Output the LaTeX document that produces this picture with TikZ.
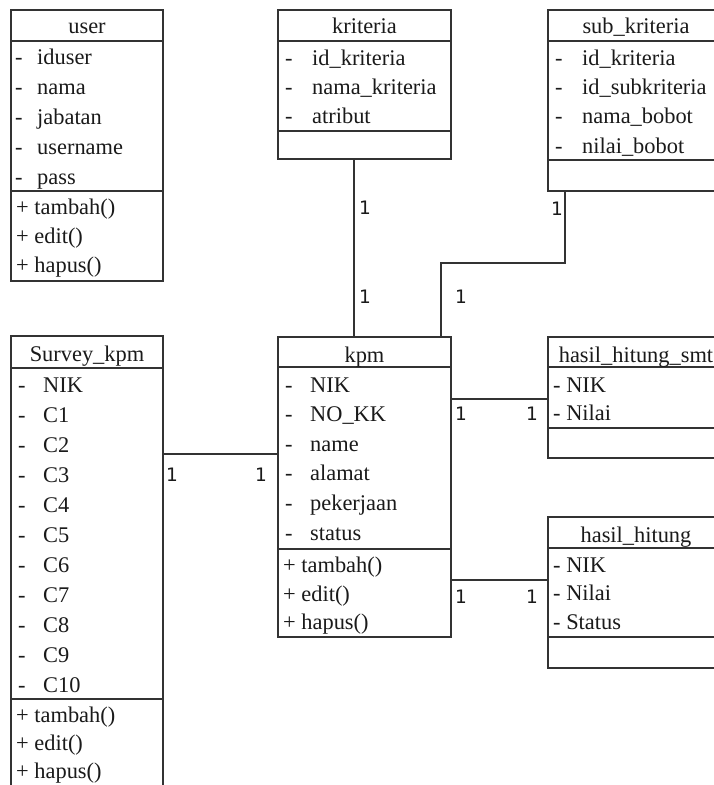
\documentclass[tikz,border=0pt]{standalone}
\usepackage{fontspec}
\setmainfont{Liberation Serif}
\newfontfamily\multfont{DejaVu Sans}
\usetikzlibrary{calc}
\definecolor{linec}{HTML}{333333}
\definecolor{txtc}{HTML}{1A1A1A}
\newcommand\umldash[1]{\makebox[#1][l]{-}}
\tikzset{
  box/.style={draw=linec, line width=1.3pt, anchor=north west, inner sep=0pt, outer sep=0pt},
  divline/.style={draw=linec, line width=1.3pt},
  txt/.style={anchor=base west, inner sep=0pt, text=txtc, font=\fontsize{22.4}{26}\selectfont},
  head/.style={anchor=base, inner sep=0pt, text=txtc, font=\fontsize{22.4}{26}\selectfont},
  mult/.style={inner sep=0pt, text=txtc, font=\multfont\fontsize{18.5}{20}\selectfont},
  conn/.style={draw=linec, line width=1.3pt},
}
\begin{document}
\begin{tikzpicture}[x=1pt,y=-1pt]
\useasboundingbox (0,0) rectangle (714,785);
\clip (0,0) rectangle (714,785);
\fill[white] (0,0) rectangle (714,785);

% ---------- user ----------
\node[box, minimum width=152pt, minimum height=271pt] (user) at (11,10) {};
\draw[divline] (11,41) -- (163,41);
\draw[divline] (11,191) -- (163,191);
\node[head] (user-h) at (87,33) {user};
\foreach \t [count=\i] in {iduser,nama,jabatan,username,pass}
  \node[txt] (user-a\i) at (15,{34+30*\i}) {\umldash{22pt}\t};
\node[txt] (user-m1) at (16,214) {+ tambah()};
\node[txt] (user-m2) at (16,243) {+ edit()};
\node[txt] (user-m3) at (16,272) {+ hapus()};

% ---------- kriteria ----------
\node[box, minimum width=173pt, minimum height=149pt] (krit) at (278,10) {};
\draw[divline] (278,41) -- (451,41);
\draw[divline] (278,131) -- (451,131);
\node[head] (krit-h) at (364.5,33) {kriteria};
\node[txt] (krit-a1) at (285,65) {\umldash{27pt}id\_kriteria};
\node[txt] (krit-a2) at (285,94) {\umldash{27pt}nama\_kriteria};
\node[txt] (krit-a3) at (285,123) {\umldash{27pt}atribut};

% ---------- sub_kriteria ----------
\node[box, minimum width=176pt, minimum height=181pt] (subk) at (548,10) {};
\draw[divline] (548,41) -- (724,41);
\draw[divline] (548,160) -- (724,160);
\node[head] (subk-h) at (636,33) {sub\_kriteria};
\node[txt] (subk-a1) at (555,65) {\umldash{27pt}id\_kriteria};
\node[txt] (subk-a2) at (555,94) {\umldash{27pt}id\_subkriteria};
\node[txt] (subk-a3) at (555,123) {\umldash{27pt}nama\_bobot};
\node[txt] (subk-a4) at (555,153) {\umldash{27pt}nilai\_bobot};

% ---------- Survey_kpm ----------
\node[box, minimum width=152pt, minimum height=470pt] (surv) at (11,336) {};
\draw[divline] (11,368) -- (163,368);
\draw[divline] (11,699) -- (163,699);
\node[head] (surv-h) at (87,361) {Survey\_kpm};
\foreach \t [count=\i] in {NIK,C1,C2,C3,C4,C5,C6,C7,C8,C9,C10}
  \node[txt] (surv-a\i) at (18,{362+30*\i}) {\umldash{25pt}\t};
\node[txt] (surv-m1) at (16,722) {+ tambah()};
\node[txt] (surv-m2) at (16,750) {+ edit()};
\node[txt] (surv-m3) at (16,778) {+ hapus()};

% ---------- kpm ----------
\node[box, minimum width=173pt, minimum height=300pt] (kpm) at (278,337) {};
\draw[divline] (278,367) -- (451,367);
\draw[divline] (278,549) -- (451,549);
\node[head] (kpm-h) at (364.5,362) {kpm};
\foreach \t [count=\i] in {NIK,NO\_KK,name,alamat,pekerjaan,status}
  \node[txt] (kpm-a\i) at (285,{362.4+29.6*\i}) {\umldash{25pt}\t};
\node[txt] (kpm-m1) at (283,572) {+ tambah()};
\node[txt] (kpm-m2) at (283,601) {+ edit()};
\node[txt] (kpm-m3) at (283,629) {+ hapus()};

% ---------- hasil_hitung_smt ----------
\node[box, minimum width=176pt, minimum height=121pt] (smt) at (548,337) {};
\draw[divline] (548,367) -- (724,367);
\draw[divline] (548,428) -- (724,428);
\node[head] (smt-h) at (636,362) {hasil\_hitung\_smt};
\node[txt] (smt-a1) at (553,392) {- NIK};
\node[txt] (smt-a2) at (553,420) {- Nilai};

% ---------- hasil_hitung ----------
\node[box, minimum width=176pt, minimum height=151pt] (hh) at (548,517) {};
\draw[divline] (548,548) -- (724,548);
\draw[divline] (548,637) -- (724,637);
\node[head] (hh-h) at (636,542) {hasil\_hitung};
\node[txt] (hh-a1) at (553,572) {- NIK};
\node[txt] (hh-a2) at (553,600) {- Nilai};
\node[txt] (hh-a3) at (553,629) {- Status};

% ---------- connectors ----------
\draw[conn] ([xshift=76pt]krit.south west) -- ([xshift=76pt]kpm.north west);
\draw[conn] ([xshift=17pt]subk.south west) -- ++(0,72) -| ([xshift=163pt]kpm.north west);
\draw[conn] ([yshift=-118pt]surv.north east) -- ([yshift=-117pt]kpm.north west);
\draw[conn, line width=2.3pt] ([yshift=-62pt]kpm.north east) -- ([yshift=-62pt]smt.north west);
\draw[conn] ([yshift=-243pt]kpm.north east) -- ([yshift=-63pt]hh.north west);

% ---------- multiplicities ----------
\node[mult] (m1) at (365,208) {1};
\node[mult] (m2) at (365,297) {1};
\node[mult] (m3) at (557,209) {1};
\node[mult] (m4) at (461,297) {1};
\node[mult] (m5) at (172,475) {1};
\node[mult] (m6) at (261,475) {1};
\node[mult] (m7) at (461,414) {1};
\node[mult] (m8) at (532,414) {1};
\node[mult] (m9) at (461,597) {1};
\node[mult] (m10) at (532,597) {1};
\end{tikzpicture}
\end{document}
